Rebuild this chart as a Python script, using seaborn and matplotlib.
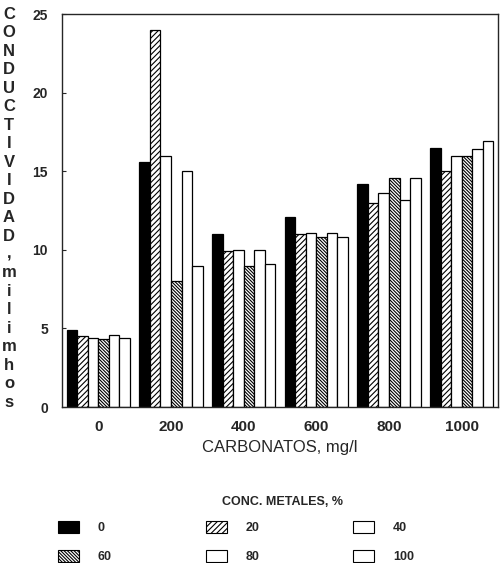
import numpy as np
import pandas as pd
import matplotlib
matplotlib.use("Agg")
import matplotlib.pyplot as plt
import seaborn as sns
from matplotlib.patches import Patch

# datos
carbonatos = ["0", "200", "400", "600", "800", "1000"]
conc_metales = ["0", "20", "40", "60", "80", "100"]
cond_0 = [4.9, 15.6, 11.0, 12.1, 14.2, 16.5]
cond_20 = [4.5, 24.0, 9.9, 11.0, 13.0, 15.0]
cond_40 = [4.4, 16.0, 10.0, 11.1, 13.6, 16.0]
cond_60 = [4.3, 8.0, 9.0, 10.8, 14.6, 16.0]
cond_80 = [4.6, 15.0, 10.0, 11.1, 13.2, 16.4]
cond_100 = [4.4, 9.0, 9.1, 10.8, 14.6, 16.9]

colores = ["black", "white", "white", "white", "white", "white"]
tramas = ["", "//////", "", "\\" * 10, "", ""]

series = [cond_0, cond_20, cond_40, cond_60, cond_80, cond_100]
df = pd.DataFrame({
    "carbonatos": np.tile(carbonatos, len(conc_metales)),
    "conc": np.repeat(conc_metales, len(carbonatos)),
    "valor": np.concatenate(series),
})

sns.set_style("ticks")
plt.rcParams["font.family"] = ["Liberation Sans", "DejaVu Sans"]
plt.rcParams["hatch.linewidth"] = 0.8

fig = plt.figure(figsize=(5, 5.63), dpi=100)
ax = fig.add_axes([0.124, 0.277, 0.872, 0.698])

sns.barplot(data=df, x="carbonatos", y="valor", hue="conc",
            order=carbonatos, hue_order=conc_metales,
            palette=dict(zip(conc_metales, colores)),
            edgecolor="black", linewidth=0.9, width=0.87, ax=ax)

for cont, trama in zip(ax.containers, tramas):
    for barra in cont:
        barra.set_hatch(trama)

ax.get_legend().remove()
ax.set_ylim(0, 25)
ax.set_xlim(-0.5, 5.5)
ax.set_yticks([0, 5, 10, 15, 20, 25])
ax.tick_params(axis="y", direction="in", length=3, labelsize=10, pad=10)
ax.tick_params(axis="x", length=0, labelsize=11, pad=9)
for lab in ax.get_xticklabels() + ax.get_yticklabels():
    lab.set_fontweight("bold")
for s in ax.spines.values():
    s.set_linewidth(1.0)
    s.set_visible(True)

ax.set_xlabel("CARBONATOS, mg/l", fontsize=12, labelpad=5)
ax.set_ylabel("")

# etiqueta vertical con letras apiladas
etiqueta = "CONDUCTIVIDAD,milimhos"
fig.text(0.018, 0.988, "\n".join(etiqueta), ha="center", va="top",
         fontsize=12, fontweight="bold", linespacing=1.29)

fig.text(0.566, 0.108, "CONC. METALES, %", ha="center", va="center",
         fontsize=9, fontweight="bold")

manijas = [Patch(facecolor=c, edgecolor="black", hatch=t, linewidth=0.8)
           for c, t in zip(colores, tramas)]
orden = [0, 3, 1, 4, 2, 5]
fig.legend([manijas[i] for i in orden], [conc_metales[i] for i in orden],
           ncol=3, loc="upper left", bbox_to_anchor=(0.093, 0.094),
           frameon=False, handlelength=1.7, handleheight=1.0,
           handletextpad=1.5, columnspacing=7.5, labelspacing=1.3,
           prop={"size": 9, "weight": "bold"})

fig.savefig("out.png", dpi=100)
